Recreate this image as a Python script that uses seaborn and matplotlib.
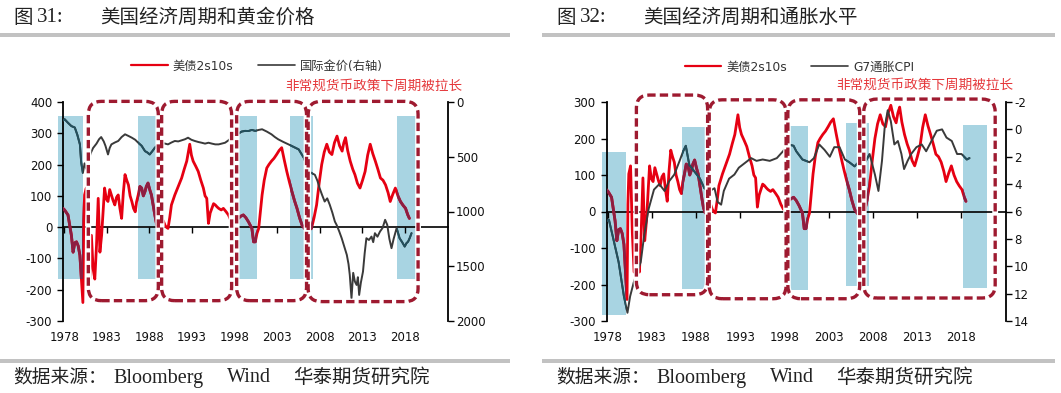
import numpy as np
import pandas as pd
import matplotlib
matplotlib.use("Agg")
import matplotlib.pyplot as plt
import seaborn as sns
from matplotlib.patches import Rectangle, FancyBboxPatch
from matplotlib.path import Path
from matplotlib.lines import Line2D

# ---------------- data ----------------
SPREAD_2S10S = [  # (year, bp)
    (1977.85, 60), (1978.05, 55), (1978.45, 39), (1978.85, -26), (1979.05, -80), (1979.25, -50),
    (1979.45, -47), (1979.65, -60), (1979.85, -90), (1980.0, -155), (1980.2, -241), (1980.3, 20),
    (1980.4, 103), (1980.6, 125), (1980.8, -58), (1981.0, -166), (1981.2, -26), (1981.4, -133),
    (1981.6, -166), (1981.8, -58), (1982.0, 92), (1982.2, -80), (1982.4, -26), (1982.6, 60),
    (1982.75, 125), (1982.95, 90), (1983.15, 82), (1983.35, 120), (1983.55, 103), (1983.75, 85),
    (1983.95, 71), (1984.15, 95), (1984.35, 103), (1984.55, 60), (1984.75, 28), (1984.95, 110),
    (1985.15, 168), (1985.35, 150), (1985.55, 135), (1985.75, 100), (1985.95, 82), (1986.15, 60),
    (1986.35, 49), (1986.5, 80), (1986.7, 103), (1986.9, 130), (1987.1, 125), (1987.3, 100),
    (1987.5, 114), (1987.65, 130), (1987.85, 141), (1988.05, 120), (1988.25, 103), (1988.45, 70),
    (1988.65, 39), (1988.85, 10), (1989.05, -4), (1989.25, 10), (1989.45, 17), (1989.65, 20),
    (1989.85, 6), (1990.0, 0), (1990.2, -4), (1990.4, 30), (1990.6, 71), (1991.0, 103),
    (1991.4, 130), (1991.8, 157), (1992.1, 185), (1992.4, 211), (1992.75, 265), (1992.95, 230),
    (1993.15, 211), (1993.45, 195), (1993.75, 178), (1994.05, 150), (1994.35, 125), (1994.55, 100),
    (1994.75, 92), (1994.95, 12), (1995.15, 45), (1995.35, 60), (1995.55, 75), (1995.75, 71),
    (1995.95, 65), (1996.15, 60), (1996.45, 55), (1996.7, 60), (1997.0, 50), (1997.3, 39),
    (1997.6, 20), (1997.9, 6), (1998.2, 15), (1998.45, 28), (1998.75, 35), (1999.05, 39),
    (1999.35, 30), (1999.65, 17), (2000.05, -4), (2000.25, -47), (2000.45, -47), (2000.65, -20),
    (2000.85, -4), (2001.05, 50), (2001.25, 103), (2001.5, 150), (2001.8, 189), (2002.05, 200),
    (2002.35, 211), (2002.65, 220), (2002.95, 232), (2003.25, 245), (2003.55, 254), (2003.85, 215),
    (2004.15, 178), (2004.45, 145), (2004.75, 114), (2005.05, 85), (2005.35, 60), (2005.65, 30),
    (2005.95, 6), (2006.25, -5), (2006.5, -10), (2006.8, -8), (2007.05, -4), (2007.35, 30),
    (2007.65, 71), (2007.95, 140), (2008.25, 200), (2008.55, 240), (2008.85, 265), (2009.15, 240),
    (2009.45, 232), (2009.75, 270), (2010.05, 291), (2010.35, 260), (2010.65, 243), (2010.85, 270),
    (2011.05, 286), (2011.3, 245), (2011.6, 211), (2011.9, 185), (2012.15, 168), (2012.45, 140),
    (2012.75, 125), (2013.05, 150), (2013.35, 178), (2013.65, 230), (2013.95, 265), (2014.25, 235),
    (2014.55, 211), (2014.85, 185), (2015.15, 157), (2015.45, 150), (2015.75, 135), (2016.05, 110),
    (2016.3, 82), (2016.6, 105), (2016.9, 125), (2017.2, 100), (2017.5, 82), (2017.8, 70),
    (2018.1, 60), (2018.35, 40), (2018.55, 28),
]

GOLD_PRICE = [  # (year, USD/oz), right axis inverted
    (1977.85, 170), (1978.05, 157), (1978.45, 190), (1978.85, 220), (1979.25, 233), (1979.55, 300),
    (1979.85, 387), (1980.0, 550), (1980.2, 648), (1980.4, 560), (1980.6, 610), (1980.8, 560),
    (1981.1, 470), (1981.4, 420), (1981.8, 380), (1982.1, 340), (1982.35, 320), (1982.65, 360),
    (1982.85, 400), (1983.15, 479), (1983.35, 420), (1983.55, 387), (1983.95, 370), (1984.35, 356),
    (1984.75, 320), (1985.15, 295), (1985.55, 310), (1985.95, 326), (1986.35, 345), (1986.7, 372),
    (1987.1, 400), (1987.5, 449), (1987.75, 460), (1988.05, 479), (1988.35, 450), (1988.65, 418),
    (1989.05, 390), (1989.45, 372), (1989.85, 380), (1990.2, 387), (1990.6, 370), (1991.0, 356),
    (1991.4, 360), (1991.8, 350), (1992.2, 340), (1992.55, 326), (1992.95, 345), (1993.35, 356),
    (1993.75, 365), (1994.15, 372), (1994.55, 380), (1994.95, 372), (1995.35, 380), (1995.75, 387),
    (1996.15, 387), (1996.5, 380), (1996.9, 372), (1997.3, 350), (1997.65, 326), (1998.05, 300),
    (1998.45, 290), (1998.85, 270), (1999.25, 264), (1999.65, 265), (2000.05, 255), (2000.45, 264),
    (2000.85, 255), (2001.25, 249), (2001.8, 270), (2002.35, 295), (2002.75, 320), (2003.15, 341),
    (2003.75, 365), (2004.35, 387), (2004.95, 410), (2005.55, 433), (2006.15, 510), (2006.4, 560),
    (2006.7, 635), (2007.1, 650), (2007.45, 665), (2007.75, 720), (2008.0, 786), (2008.3, 850),
    (2008.6, 909), (2008.9, 880), (2009.2, 939), (2009.5, 1010), (2009.8, 1092), (2010.0, 1122),
    (2010.3, 1180), (2010.6, 1244), (2010.9, 1320), (2011.2, 1396), (2011.4, 1480), (2011.55, 1580),
    (2011.75, 1792), (2011.95, 1560), (2012.15, 1640), (2012.35, 1671), (2012.5, 1600), (2012.65, 1762),
    (2012.85, 1650), (2013.1, 1549), (2013.3, 1380), (2013.5, 1244), (2013.8, 1260), (2014.1, 1229),
    (2014.3, 1280), (2014.5, 1198), (2014.8, 1230), (2015.1, 1183), (2015.4, 1150), (2015.7, 1076),
    (2015.95, 1122), (2016.2, 1250), (2016.45, 1335), (2016.7, 1250), (2017.05, 1152), (2017.4, 1244),
    (2017.7, 1280), (2018.0, 1320), (2018.2, 1290), (2018.4, 1275), (2018.6, 1240), (2018.8, 1198),
]

G7_CPI = [  # (year, % yoy), right axis inverted
    (1977.65, 6.8), (1978.15, 6.6), (1978.65, 8.0), (1979.25, 9.7), (1979.85, 12.2), (1980.25, 13.4),
    (1980.55, 12.2), (1980.95, 11.2), (1981.35, 10.4), (1981.75, 9.7), (1982.15, 7.7), (1982.65, 5.8),
    (1983.25, 4.4), (1983.85, 4.0), (1984.45, 4.5), (1984.95, 3.8), (1985.55, 3.3), (1986.15, 2.3),
    (1986.55, 1.6), (1986.85, 1.2), (1987.25, 2.6), (1987.85, 3.1), (1988.45, 3.6), (1988.95, 4.3),
    (1989.55, 4.5), (1990.1, 4.3), (1990.45, 5.3), (1990.85, 5.5), (1991.15, 4.5), (1991.75, 3.6),
    (1992.35, 3.3), (1992.85, 2.8), (1993.65, 2.4), (1994.25, 2.1), (1994.85, 2.3), (1995.55, 2.2),
    (1996.35, 2.3), (1997.15, 2.1), (1997.85, 1.6), (1998.45, 1.1), (1999.05, 1.2), (1999.35, 1.6),
    (2000.05, 2.2), (2000.85, 2.4), (2001.35, 2.1), (2001.95, 1.1), (2002.55, 1.5), (2003.15, 2.0),
    (2003.65, 1.3), (2004.25, 1.3), (2004.85, 2.2), (2005.35, 2.4), (2005.95, 2.7), (2006.55, 2.3),
    (2007.15, 2.4), (2007.65, 1.8), (2008.25, 3.3), (2008.65, 4.5), (2009.05, 2.3), (2009.35, -0.1),
    (2009.7, -1.4), (2010.05, -0.6), (2010.45, 1.1), (2010.85, 0.85), (2011.25, 1.8), (2011.55, 2.9),
    (2011.95, 2.3), (2012.35, 1.8), (2012.95, 1.3), (2013.55, 1.1), (2014.05, 1.6), (2014.65, 0.85),
    (2015.25, 0.1), (2015.85, 0.0), (2016.35, 0.6), (2016.95, 0.85), (2017.55, 1.8), (2018.05, 1.8),
    (2018.65, 2.2), (2018.95, 2.1),
]

# shaded periods (start, end, bottom, top) in left-axis units
SHADES_31 = [(1977.3, 1980.25, -165, 355), (1986.71, 1989.06, -165, 355), (1998.26, 2000.6, -165, 355),
             (2004.5, 2007.25, -165, 355), (2017.04, 2019.7, -165, 355)]
SHADES_32 = [(1977.4, 1980.05, -283, 162), (1986.41, 1989.06, -212, 231), (1997.94, 2000.67, -214, 233),
             (2004.95, 2007.6, -205, 242), (2018.26, 2020.99, -210, 237)]
# cycle frames (start, end, bottom, top)
CYCLES_31 = [(1980.84, 1989.06, -235, 402), (1989.45, 1997.67, -235, 402),
             (1998.26, 2006.47, -235, 402), (2006.66, 2019.57, -238, 402)]
CYCLES_32 = [(1981.26, 1989.32, -228, 319), (1989.5, 1998.2, -239, 306),
             (1998.4, 2006.53, -239, 306), (2006.99, 2021.86, -237, 308)]

YEAR_TICKS = [1978, 1983, 1988, 1993, 1998, 2003, 2008, 2013, 2018]
LEFT_TICKS_31 = [-300, -200, -100, 0, 100, 200, 300, 400]
RIGHT_TICKS_31 = [0, 500, 1000, 1500, 2000]
LEFT_TICKS_32 = [-300, -200, -100, 0, 100, 200, 300]
RIGHT_TICKS_32 = [-2, 0, 2, 4, 6, 8, 10, 12, 14]

# ---------------- style ----------------
RED = "#E60012"
RED_DARK = "#8C1E42"
GREY = "#3A3A3A"
GREY_DARK = "#22505E"
SHADE = "#A8D4E2"
BOX = "#9E1A30"
NOTE = "#E5383B"
BAR = "#C2C2C2"

sns.set_theme(style="ticks")
plt.rcParams['font.family'] = ['DejaVu Sans', 'Noto Sans CJK SC']
plt.rcParams['axes.unicode_minus'] = False
SERIF = ['Liberation Serif', 'Noto Sans CJK SC']
CJK = ['Noto Sans CJK SC', 'DejaVu Sans']

W, H = 1061, 393
fig = plt.figure(figsize=(W / 100, H / 100), dpi=100, facecolor='white')


def fx(x):
    return x / W


def fy(y):
    return 1 - y / H


def clip_path(shades):
    verts, codes = [], []
    for x0, x1, y0, y1 in shades:
        verts += [(x0, y0), (x1, y0), (x1, y1), (x0, y1), (x0, y0)]
        codes += [Path.MOVETO, Path.LINETO, Path.LINETO, Path.LINETO, Path.CLOSEPOLY]
    return Path(verts, codes)


def panel(rect, spread, other, other_name, other_col, ylim_l, ticks_l, ylim_r, ticks_r,
          shades, cycles, legend_labels, legend_xy, note_xy):
    ax = fig.add_axes(rect)
    tw = ax.twinx()
    ax.set_xlim(1977.9, 2023.05)
    ax.set_ylim(*ylim_l)
    tw.set_ylim(*ylim_r)

    # shaded periods
    for x0, x1, y0, y1 in shades:
        ax.add_patch(Rectangle((x0, y0), x1 - x0, y1 - y0, facecolor=SHADE, edgecolor='none',
                               zorder=0, clip_on=False))
    cp = clip_path(shades)

    sdf = pd.DataFrame(spread, columns=['year', 'bp'])
    odf = pd.DataFrame(other, columns=['year', other_name])

    sns.lineplot(data=sdf, x='year', y='bp', ax=ax, color=RED, linewidth=2.0,
                 estimator=None, sort=False, legend=False, zorder=3)
    sns.lineplot(data=sdf, x='year', y='bp', ax=ax, color=RED_DARK, linewidth=2.0,
                 estimator=None, sort=False, legend=False, zorder=3)
    ax.lines[-1].set_clip_path(cp, ax.transData)

    sns.lineplot(data=odf, x='year', y=other_name, ax=tw, color=other_col, linewidth=1.4,
                 estimator=None, sort=False, legend=False, zorder=3)
    sns.lineplot(data=odf, x='year', y=other_name, ax=tw, color=GREY_DARK, linewidth=1.4,
                 estimator=None, sort=False, legend=False, zorder=3)
    tw.lines[-1].set_clip_path(cp, ax.transData)

    # axes styling
    ax.set_xlabel('')
    ax.set_ylabel('')
    tw.set_ylabel('')
    ax.spines['top'].set_visible(False)
    ax.spines['right'].set_visible(False)
    ax.spines['left'].set_color('black')
    ax.spines['left'].set_linewidth(1.3)
    ax.spines['bottom'].set_position(('data', 0))
    ax.spines['bottom'].set_color('black')
    ax.spines['bottom'].set_linewidth(1.2)
    ax.spines['bottom'].set_zorder(2)
    for s in ['top', 'left', 'bottom']:
        tw.spines[s].set_visible(False)
    tw.spines['right'].set_color('black')
    tw.spines['right'].set_linewidth(1.3)

    ax.set_xticks(YEAR_TICKS)
    ax.tick_params(axis='x', bottom=True, direction='out', length=4, width=1, color='black',
                   labelbottom=False)
    ax.set_yticks(ticks_l)
    ax.tick_params(axis='y', left=True, direction='out', length=4, width=1, color='black',
                   pad=4, labelsize=8.5, labelcolor='#111111')
    tw.set_yticks(ticks_r)
    tw.tick_params(axis='y', right=True, direction='out', length=4, width=1, color='black',
                   pad=2, labelsize=8.5, labelcolor='#111111')
    tw.tick_params(axis='x', bottom=False, labelbottom=False)

    sec = ax.secondary_xaxis('bottom')
    sec.set_xticks(YEAR_TICKS)
    sec.set_xticklabels([str(t) for t in YEAR_TICKS])
    sec.tick_params(axis='x', length=0, pad=7, labelsize=8.5, labelcolor='#111111')
    sec.spines['bottom'].set_visible(False)

    ax.set_xlim(1977.9, 2023.05)
    ax.set_ylim(*ylim_l)
    tw.set_ylim(*ylim_r)

    # rounded dashed cycle frames
    fig.canvas.draw()
    p0 = ax.transData.transform((2000, 0))
    px_x = ax.transData.transform((2001, 0))[0] - p0[0]
    px_y = ax.transData.transform((2000, 1))[1] - p0[1]
    asp = px_x / px_y
    r = 13 / px_x
    style = f"round,pad=0,rounding_size={r}"
    for x0, x1, y0, y1 in cycles:
        under = FancyBboxPatch((x0, y0), x1 - x0, y1 - y0, boxstyle=style, mutation_aspect=asp,
                               facecolor='none', edgecolor='white', linewidth=4.2,
                               transform=ax.transData, clip_on=False, zorder=5)
        tw.add_patch(under)
        dash = FancyBboxPatch((x0, y0), x1 - x0, y1 - y0, boxstyle=style, mutation_aspect=asp,
                              facecolor='none', edgecolor=BOX, linewidth=2.4,
                              linestyle=(0, (2.5, 1.25)), transform=ax.transData,
                              clip_on=False, zorder=6)
        tw.add_patch(dash)
    tw.set_ylim(*ylim_r)

    handles = [Line2D([], [], color=RED, linewidth=1.6), Line2D([], [], color=GREY, linewidth=1.2)]
    leg = tw.legend(handles, legend_labels, loc='center', bbox_to_anchor=legend_xy, ncol=2,
                    frameon=False, fontsize=8.8, handlelength=3.0, handletextpad=0.4,
                    columnspacing=2.0, borderaxespad=0)
    for t in leg.get_texts():
        t.set_color('#333333')
    tw.text(note_xy[0], note_xy[1], '非常规货币政策下周期被拉长', transform=ax.transAxes,
            ha='center', va='center', color=NOTE, fontsize=9.8, family=CJK)
    return ax, tw


panel([fx(63.3), fy(321), 384.4 / W, 219 / H], SPREAD_2S10S, GOLD_PRICE, 'gold', GREY,
      (-300, 400), LEFT_TICKS_31, (2000, 0), RIGHT_TICKS_31, SHADES_31, CYCLES_31,
      ['美债2s10s', '国际金价(右轴)'], (0.504, 1.164), (0.807, 1.073))
panel([fx(606.7), fy(321), 399 / W, 219 / H], SPREAD_2S10S, G7_CPI, 'cpi', GREY,
      (-300, 300), LEFT_TICKS_32, (14, -2), RIGHT_TICKS_32, SHADES_32, CYCLES_32,
      ['美债2s10s', 'G7通胀CPI'], (0.483, 1.16), (0.798, 1.078))

# titles, separator bars and source lines
for off, num, title in [(0, '31:', '美国经济周期和黄金价格'), (543, '32:', '美国经济周期和通胀水平')]:
    fig.text(fx(13 + off), fy(18), '图', family=SERIF, fontsize=14, va='center', ha='left',
             color='#222222')
    fig.text(fx(37 + off), fy(18), num, family=SERIF, fontsize=15, va='center', ha='left',
             color='#222222')
    fig.text(fx(100 + off), fy(18), title, family=SERIF, fontsize=14, va='center', ha='left',
             color='#222222')
    fig.text(fx(13 + off), fy(378), '数据来源：', family=SERIF, fontsize=13.5, va='center',
             ha='left', color='#222222')
    fig.text(fx(113 + off), fy(378), 'Bloomberg', family=SERIF, fontsize=14.5, va='center',
             ha='left', color='#222222')
    fig.text(fx(227 + off), fy(378), 'Wind', family=SERIF, fontsize=14.5, va='center',
             ha='left', color='#222222')
    fig.text(fx(293 + off), fy(378), '华泰期货研究院', family=SERIF, fontsize=14, va='center',
             ha='left', color='#222222')
    x0 = 0 if off == 0 else 542
    x1 = 510 if off == 0 else 1055
    fig.add_artist(Rectangle((fx(x0), fy(37)), (x1 - x0) / W, 4 / H, transform=fig.transFigure,
                             facecolor=BAR, edgecolor='none'))
    fig.add_artist(Rectangle((fx(x0), fy(363)), (x1 - x0) / W, 4 / H, transform=fig.transFigure,
                             facecolor=BAR, edgecolor='none'))

fig.savefig('out.png', dpi=100, facecolor='white')
